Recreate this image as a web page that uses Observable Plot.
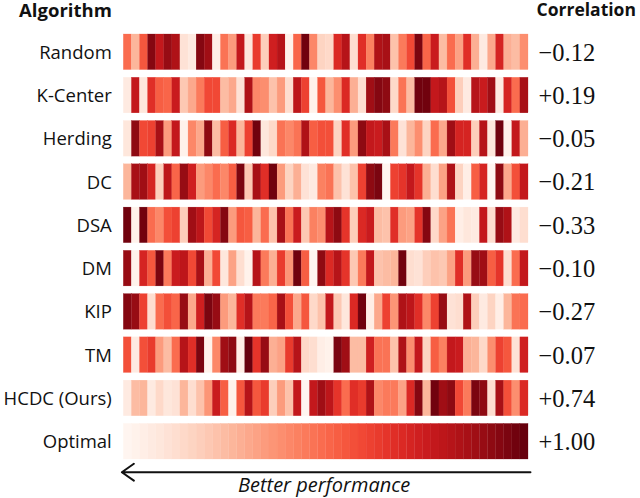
<!DOCTYPE html>
<html>
<head>
<meta charset="utf-8">
<style>html,body{margin:0;padding:0;background:#fff}</style>
<script src="https://cdn.jsdelivr.net/npm/d3@7"></script>
<script src="https://cdn.jsdelivr.net/npm/@observablehq/plot@0.6"></script>
</head>
<body>
<div id="chart"></div>
<script>
const algorithms = ["Random","K-Center","Herding","DC","DSA","DM","KIP","TM","HCDC (Ours)","Optimal"];
const correlations = ["−0.12","+0.19","−0.05","−0.21","−0.33","−0.10","−0.27","−0.07","+0.74","+1.00"];
const random = [24,13,27,46,38,44,41,5,3,46,43,2,23,17,38,4,31,9,36,40,1,25,48,20,8,7,34,40,6,33,21,41,42,11,22,29,47,25,37,12,24,16,33,14,3,15,35,14,12,19];
const kCenter = [3,38,4,33,26,25,37,10,15,22,29,29,12,15,5,41,20,19,11,17,6,39,30,1,27,13,19,34,14,6,43,46,45,7,23,12,48,48,38,40,28,9,3,40,37,43,3,35,24,42];
const herding = [4,45,29,30,42,17,38,1,20,15,45,12,26,34,13,30,48,4,7,23,20,23,41,26,28,28,8,33,17,45,38,37,42,22,5,13,19,8,24,15,43,35,35,9,40,4,48,1,38,14];
const dc = [13,42,43,35,9,39,25,44,36,17,20,24,20,26,47,10,42,33,48,17,8,14,5,3,21,23,11,5,11,30,45,47,0,30,32,38,32,14,6,16,41,8,2,26,35,0,45,15,28,38];
const dsa = [48,1,48,24,20,28,30,9,43,39,29,35,46,17,27,26,13,24,11,42,23,37,10,21,19,40,45,32,9,34,37,12,11,33,17,16,32,46,7,16,23,2,4,3,38,6,44,41,3,6];
const dm = [44,1,35,27,47,22,37,39,29,42,14,29,4,16,6,1,40,22,14,31,18,48,26,0,45,34,40,32,10,22,38,11,12,13,48,6,5,9,11,10,16,33,17,44,43,26,32,6,24,38];
const kip = [46,44,30,6,24,28,25,44,15,36,47,44,17,13,33,40,22,22,25,42,28,15,27,7,11,38,10,4,34,48,2,15,30,18,41,39,33,20,30,44,5,6,41,9,3,8,2,13,23,24];
const tm = [28,3,28,31,17,12,24,40,33,47,1,20,43,45,2,49,32,44,14,16,31,40,7,6,2,1,47,43,12,12,36,23,23,11,41,19,38,8,26,21,38,37,14,13,7,19,30,27,5,36];
const hcdc = [3,12,13,3,7,4,5,13,6,11,18,37,26,1,27,40,27,31,9,17,11,38,0,38,43,39,32,24,33,31,41,20,22,22,16,34,46,13,48,43,45,29,22,47,45,6,42,28,19,34];
const optimal = [0,1,2,3,4,5,6,7,8,9,10,11,12,13,14,15,16,17,18,19,20,21,22,23,24,25,26,27,28,29,30,31,32,33,34,35,36,37,38,39,40,41,42,43,44,45,46,47,48,49];
const rows = [random,kCenter,herding,dc,dsa,dm,kip,tm,hcdc,optimal];

const cells = rows.flatMap((vals, r) => vals.map((v, i) => ({algorithm: algorithms[r], position: i, rank: v})));
const summary = algorithms.map((a, r) => ({algorithm: a, correlation: correlations[r]}));
const sans = "'Open Sans', sans-serif";

const chart = Plot.plot({
  width: 640,
  height: 498,
  marginLeft: 123.3,
  marginRight: 112,
  marginTop: 34,
  marginBottom: 39,
  style: {fontFamily: sans, fontSize: "18.5px", color: "#111", background: "#fff"},
  x: {type: "band", domain: d3.range(50), padding: 0, round: false, axis: null},
  y: {type: "band", domain: algorithms, paddingInner: 0.178, paddingOuter: 0, round: false, label: null},
  color: {type: "linear", scheme: "Reds", domain: [0, 49]},
  marks: [
    Plot.axisY({tickSize: 0, tickPadding: 12, fontSize: 18.5, dy: 0.5, label: null}),
    Plot.cell(cells, {x: "position", y: "algorithm", fill: "rank", stroke: "rank", strokeWidth: 0.25}),
    Plot.text(summary, {y: "algorithm", text: "correlation", frameAnchor: "right", textAnchor: "start", dx: 10, dy: 0.5, fontFamily: "Liberation Serif", fontSize: 24.5}),
    Plot.text(["Algorithm"], {frameAnchor: "top-left", textAnchor: "end", dx: -12, dy: -31, fontWeight: "bold", fontSize: 18.5, lineAnchor: "top"}),
    Plot.text(["Correlation"], {frameAnchor: "top-right", textAnchor: "start", dx: 8, dy: -31, fontWeight: "bold", fontSize: 17.5, lineAnchor: "top"}),
    Plot.arrow([{a: 49, b: 0, algorithm: "Optimal"}], {x1: "a", x2: "b", y1: "algorithm", y2: "algorithm", dy: 30.5, stroke: "#111", strokeWidth: 2, headLength: 11, headAngle: 70, insetStart: -6, insetEnd: -6}),
    Plot.text(["Better performance"], {frameAnchor: "bottom", dx: -2, dy: 32, fontStyle: "italic", fontSize: 20})
  ]
});
document.getElementById("chart").appendChild(chart);
</script>
</body>
</html>
